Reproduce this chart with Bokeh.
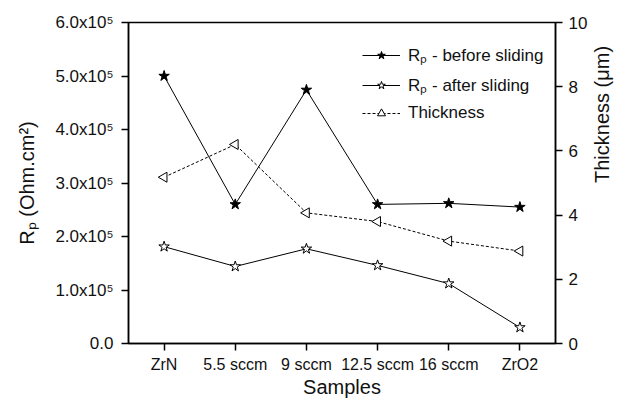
import math
from bokeh.plotting import figure
from bokeh.models import FactorRange, Range1d, LinearAxis, FixedTicker, Legend, LegendItem
from bokeh.embed import file_html
from bokeh.resources import INLINE

samples = ["ZrN", "5.5 sccm", "9 sccm", "12.5 sccm", "16 sccm", "ZrO2"]
rp_before = [5.0e5, 2.6e5, 4.74e5, 2.6e5, 2.62e5, 2.55e5]
rp_after = [1.81e5, 1.44e5, 1.77e5, 1.46e5, 1.12e5, 0.30e5]
thickness = [5.18, 6.2, 4.07, 3.8, 3.19, 2.88]

left_ticks = [0, 1e5, 2e5, 3e5, 4e5, 5e5, 6e5]
left_tick_labels = ["0.0", "1.0x10\u2075", "2.0x10\u2075", "3.0x10\u2075",
                    "4.0x10\u2075", "5.0x10\u2075", "6.0x10\u2075"]
right_ticks = [0, 2, 4, 6, 8, 10]

FONT = "Liberation Sans"

p = figure(width=627, height=401, x_range=FactorRange(*samples), y_range=Range1d(0, 6e5),
           output_backend="svg", toolbar_location=None,
           min_border_left=128, min_border_right=67, min_border_top=22, min_border_bottom=58)
p.extra_y_ranges = {"th": Range1d(0, 10)}
p.grid.visible = False
p.outline_line_color = "black"
p.outline_line_width = 1.5
p.background_fill_color = "white"
p.border_fill_color = "white"

def style_axis(ax):
    ax.axis_line_color = "black"
    ax.axis_line_width = 1.5
    ax.major_tick_line_color = "black"
    ax.major_tick_line_width = 1.5
    ax.major_tick_in = 0
    ax.major_tick_out = 7
    ax.minor_tick_line_color = None
    ax.major_label_text_font = FONT
    ax.major_label_text_font_size = "16px"
    ax.major_label_text_color = "#111111"
    ax.axis_label_text_font = FONT
    ax.axis_label_text_font_size = "20px"
    ax.axis_label_text_font_style = "normal"
    ax.axis_label_text_color = "#111111"

xa = p.xaxis[0]
style_axis(xa)
xa.axis_label = "Samples"
xa.major_label_standoff = 5
xa.axis_label_standoff = 0

ya = p.yaxis[0]
style_axis(ya)
ya.major_label_text_font_size = "17px"
ya.ticker = FixedTicker(ticks=left_ticks)
ya.major_label_overrides = {t: l for t, l in zip(left_ticks, left_tick_labels)}
ya.axis_label = "R\u209a (Ohm.cm\u00b2)"
ya.major_label_standoff = 8
ya.axis_label_standoff = 14

ra = LinearAxis(y_range_name="th", ticker=FixedTicker(ticks=right_ticks), axis_label="Thickness (\u03bcm)")
style_axis(ra)
ra.major_label_text_font_size = "17px"
ra.major_label_standoff = 6
ra.axis_label_standoff = 12
ra.axis_label_orientation = math.pi / 2
p.add_layout(ra, "right")

l1 = p.line(samples, rp_before, line_color="black", line_width=1)
s1 = p.scatter(samples, rp_before, marker="star", size=11, fill_color="black", line_color="black")
l2 = p.line(samples, rp_after, line_color="black", line_width=1)
s2 = p.scatter(samples, rp_after, marker="star", size=11, fill_color="white", line_color="black")
l3 = p.line(samples, thickness, line_color="black", line_width=1, line_dash="3 2", y_range_name="th")
s3 = p.scatter(samples, thickness, marker="triangle", angle=math.pi / 2, size=10, fill_color="white",
               line_color="black", y_range_name="th")

legend = Legend(items=[
    LegendItem(label="R\u209a - before sliding", renderers=[l1, s1]),
    LegendItem(label="R\u209a - after sliding", renderers=[l2, s2]),
    LegendItem(label="Thickness", renderers=[l3, s3]),
], location=(234, 220))
legend.border_line_color = None
legend.background_fill_alpha = 0
legend.padding = 0
legend.margin = 0
legend.glyph_width = 38
legend.glyph_height = 20
legend.label_height = 20
legend.spacing = 7
legend.label_standoff = 8
legend.label_text_font = FONT
legend.label_text_font_size = "17px"
legend.label_text_color = "#111111"
p.add_layout(legend, "center")

open("out.html", "w").write(file_html(p, INLINE))
